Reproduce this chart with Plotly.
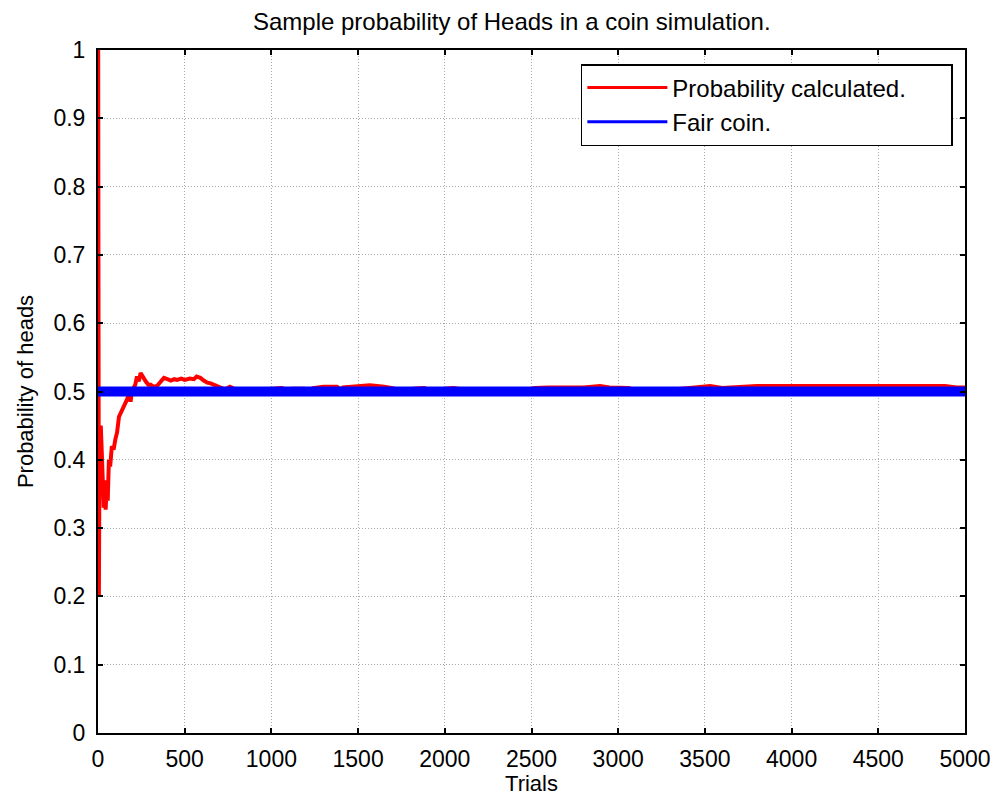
import plotly.graph_objects as go

# trial numbers and sample probability of heads
trials = [1, 2, 3, 4, 5, 8, 12, 16, 22, 28, 33, 38, 44, 50, 56, 63, 70, 80, 90,
          100, 110, 121, 135, 150, 167, 180, 188, 195, 205, 215, 225, 235, 246,
          260, 275, 290, 304, 320, 340, 360, 380, 400, 420, 440, 456, 480, 500,
          530, 553, 569, 590, 610, 630, 650, 684, 700, 730, 761, 800, 850, 900,
          950, 1000, 1060, 1090, 1120, 1190, 1210, 1240, 1300, 1378, 1400, 1413,
          1500, 1568, 1650, 1700, 1750, 1817, 1880, 1930, 2000, 2050, 2100, 2150,
          2250, 2350, 2450, 2520, 2600, 2700, 2800, 2895, 2950, 3060, 3100, 3200,
          3300, 3374, 3450, 3530, 3600, 3700, 3800, 3900, 4000, 4100, 4200, 4300,
          4400, 4500, 4600, 4700, 4800, 4885, 4950, 5000]
prob_heads = [1.0, 0.5, 0.333, 0.25, 0.2, 0.375, 0.417, 0.45, 0.41, 0.36, 0.33,
              0.37, 0.327, 0.36, 0.34, 0.40, 0.39, 0.42, 0.415, 0.43, 0.44, 0.463,
              0.47, 0.48, 0.488, 0.497, 0.485, 0.50, 0.505, 0.51, 0.522, 0.515,
              0.527, 0.52, 0.515, 0.51, 0.51, 0.507, 0.508, 0.514, 0.52, 0.518,
              0.516, 0.518, 0.517, 0.519, 0.517, 0.519, 0.518, 0.522, 0.52, 0.516,
              0.513, 0.512, 0.508, 0.505, 0.503, 0.507, 0.502, 0.501, 0.502, 0.503,
              0.505, 0.505, 0.502, 0.504, 0.504, 0.501, 0.505, 0.507, 0.507, 0.503,
              0.506, 0.507, 0.509, 0.507, 0.505, 0.501, 0.504, 0.505, 0.501, 0.504,
              0.505, 0.503, 0.500, 0.499, 0.498, 0.501, 0.505, 0.506, 0.506, 0.506,
              0.508, 0.506, 0.505, 0.502, 0.500, 0.502, 0.504, 0.506, 0.508, 0.505,
              0.507, 0.508, 0.508, 0.508, 0.509, 0.508, 0.509, 0.508, 0.508, 0.508,
              0.508, 0.508, 0.508, 0.506, 0.506]
fair_x = [0, 5000]
fair_y = [0.5, 0.5]

font = "Liberation Sans, Arial, sans-serif"
pad = "\u00a0" * 6  # widens the legend box like the original

fig = go.Figure()
# red first so the thick blue line sits on top of it, as in the original
fig.add_trace(go.Scatter(x=trials, y=prob_heads, mode="lines",
                         line=dict(color="#ff0000", width=4), showlegend=False))
fig.add_trace(go.Scatter(x=fair_x, y=fair_y, mode="lines",
                         line=dict(color="#0000ff", width=10), showlegend=False))
# legend entries with thin sample lines
fig.add_trace(go.Scatter(x=[None], y=[None], mode="lines",
                         name="Probability calculated." + pad,
                         line=dict(color="#ff0000", width=3)))
fig.add_trace(go.Scatter(x=[None], y=[None], mode="lines", name="Fair coin.",
                         line=dict(color="#0000ff", width=3)))

axis = dict(showline=True, linecolor="black", linewidth=2, mirror="ticks",
            ticks="inside", ticklen=5, tickcolor="black", tickwidth=1.5,
            showgrid=True, gridcolor="#a8a8a8", griddash="1px,2px", gridwidth=1,
            zeroline=False, automargin=False, ticklabeloverflow="allow",
            tickfont=dict(size=23, color="black"))

fig.update_layout(
    width=982, height=788,
    margin=dict(l=90, r=25, t=42, b=63),
    paper_bgcolor="white", plot_bgcolor="white",
    font=dict(family=font, color="black"),
    title=dict(text="Sample probability of Heads in a coin simulation.",
               x=0.513, xanchor="center", y=0.994, yanchor="top",
               pad=dict(t=0, b=0), font=dict(size=24)),
    xaxis=dict(axis, range=[0, 5000], dtick=500, ticklabelstandoff=4,
               title=dict(text="Trials", font=dict(size=22), standoff=13)),
    yaxis=dict(axis, range=[0, 1], dtick=0.1, tickformat="~g", ticklabelstandoff=6,
               title=dict(text="Probability of heads", font=dict(size=22), standoff=14)),
    legend=dict(x=0.986, xanchor="right", y=0.9795, yanchor="top",
                bgcolor="white", bordercolor="black", borderwidth=1.5,
                font=dict(size=24), itemwidth=80, tracegroupgap=0),
)

fig.write_html("out.html")
